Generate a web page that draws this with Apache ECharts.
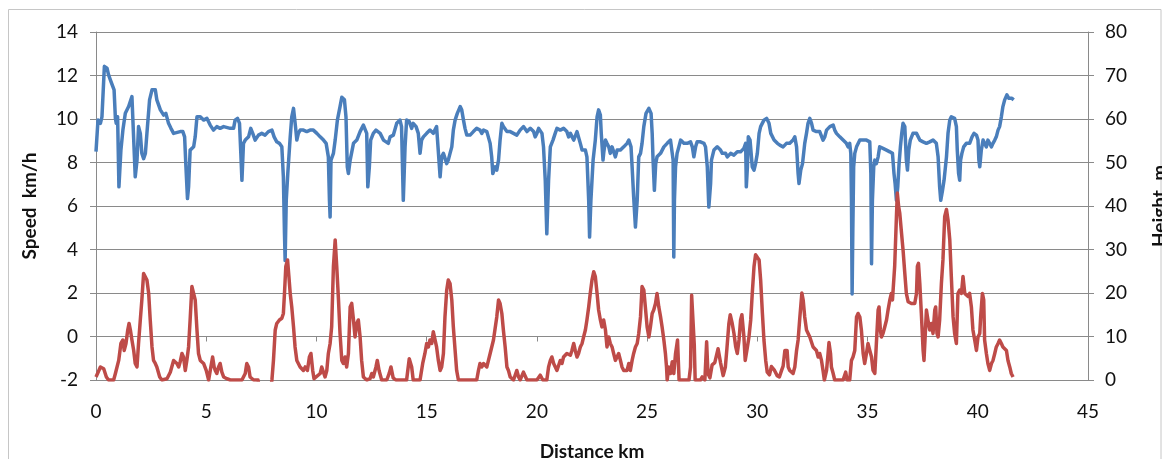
<!DOCTYPE html>
<html>
<head>
<meta charset="utf-8">
<script src="https://cdn.jsdelivr.net/npm/echarts@6/dist/echarts.min.js"></script>
<style>
html,body{margin:0;padding:0;background:#fff;}
#c{width:1162px;height:459px;}
</style>
</head>
<body>
<div id="c"></div>
<script>
// ---- Data ----
const xTicks = [0, 5, 10, 15, 20, 25, 30, 35, 40, 45];
const speedTicks = [-2, 0, 2, 4, 6, 8, 10, 12, 14];
const heightTicks = [0, 10, 20, 30, 40, 50, 60, 70, 80];

// Speed (km/h) vs distance (km)
const speedDist = [0,0.09,0.2,0.27,0.38,0.5,0.57,0.68,0.77,0.82,0.88,0.92,0.98,1.04,1.13,1.22,1.33,1.48,1.63,1.71,1.78,1.86,1.93,2.01,2.08,2.16,2.24,2.31,2.43,2.54,2.69,2.76,2.92,3.07,3.17,3.29,3.4,3.52,3.82,3.94,4.02,4.08,4.15,4.2,4.27,4.43,4.5,4.58,4.73,4.88,5.03,5.11,5.18,5.33,5.48,5.63,5.79,6.09,6.24,6.31,6.42,6.51,6.57,6.62,6.69,6.77,6.92,7.02,7.11,7.22,7.37,7.52,7.67,7.82,7.98,8.08,8.2,8.32,8.43,8.5,8.55,8.58,8.63,8.7,8.81,8.88,8.96,9.05,9.11,9.18,9.26,9.41,9.56,9.71,9.86,10.02,10.17,10.32,10.44,10.54,10.59,10.62,10.66,10.77,10.85,10.95,11.07,11.15,11.27,11.34,11.4,11.45,11.53,11.68,11.83,11.98,12.13,12.21,12.28,12.33,12.4,12.46,12.58,12.7,12.89,13.04,13.26,13.34,13.49,13.64,13.79,13.86,13.94,14.02,14.09,14.21,14.32,14.39,14.52,14.62,14.7,14.77,14.85,15.0,15.15,15.3,15.45,15.53,15.61,15.68,15.76,15.91,15.98,16.06,16.14,16.21,16.29,16.39,16.52,16.59,16.67,16.74,16.82,16.97,17.12,17.27,17.42,17.5,17.58,17.73,17.88,17.95,18.0,18.11,18.18,18.26,18.33,18.41,18.48,18.64,18.79,18.94,19.09,19.24,19.39,19.55,19.7,19.85,19.92,20.0,20.08,20.15,20.23,20.3,20.38,20.45,20.53,20.61,20.73,20.83,20.91,21.06,21.21,21.36,21.44,21.52,21.67,21.82,21.89,21.97,22.05,22.2,22.27,22.35,22.39,22.45,22.55,22.65,22.73,22.8,22.88,22.92,23.0,23.03,23.11,23.18,23.26,23.33,23.41,23.48,23.56,23.64,23.79,23.94,24.09,24.17,24.27,24.32,24.39,24.47,24.55,24.62,24.7,24.77,24.85,24.95,25.08,25.18,25.23,25.27,25.33,25.39,25.45,25.53,25.61,25.76,25.91,26.06,26.14,26.18,26.21,26.24,26.29,26.36,26.44,26.52,26.67,26.82,26.97,27.05,27.12,27.2,27.27,27.42,27.58,27.65,27.73,27.8,27.88,27.92,28.03,28.18,28.33,28.41,28.56,28.64,28.79,28.94,29.09,29.24,29.39,29.47,29.5,29.55,29.59,29.67,29.77,29.85,29.92,30.0,30.08,30.15,30.3,30.42,30.53,30.61,30.76,30.91,31.02,31.17,31.32,31.47,31.62,31.7,31.78,31.85,31.89,31.97,32.05,32.15,32.23,32.3,32.38,32.46,32.53,32.68,32.83,32.98,33.06,33.14,33.29,33.44,33.51,33.59,33.74,33.89,34.04,34.12,34.19,34.24,34.27,34.3,34.33,34.37,34.42,34.5,34.65,34.95,35.1,35.15,35.18,35.22,35.28,35.33,35.4,35.48,35.55,35.63,35.7,35.86,36.01,36.13,36.2,36.25,36.31,36.37,36.43,36.49,36.55,36.61,36.69,36.76,36.81,36.87,36.94,37.06,37.22,37.37,37.52,37.67,37.82,37.97,38.12,38.2,38.27,38.32,38.4,38.47,38.58,38.65,38.73,38.8,38.95,39.03,39.07,39.13,39.18,39.22,39.28,39.36,39.48,39.63,39.74,39.83,39.94,40.01,40.05,40.09,40.16,40.24,40.31,40.39,40.46,40.54,40.62,40.69,40.77,40.84,40.92,40.99,41.07,41.14,41.22,41.32,41.41,41.48,41.55,41.63];
const speedVals = [8.5,9.95,9.8,10.1,12.42,12.34,12.03,11.72,11.65,11.34,10.03,9.8,10.1,6.88,8.57,9.49,10.26,10.57,11.03,11.03,7.34,8.1,9.65,9.34,8.42,8.18,8.42,9.34,10.88,11.34,11.34,10.88,10.42,10.18,10.26,9.8,9.57,9.34,9.42,9.42,9.18,7.8,6.34,6.88,8.57,8.72,9.18,10.1,10.1,9.95,10.03,10.1,9.72,9.49,9.65,9.57,9.65,9.57,9.57,9.95,10.03,9.8,8.42,7.18,8.88,9.03,9.18,9.57,9.34,9.03,9.26,9.34,9.26,9.42,9.49,9.18,8.95,8.88,8.72,7.34,4.72,3.49,6.26,7.49,9.18,10.1,10.49,9.65,9.03,9.34,9.49,9.49,9.42,9.49,9.49,9.34,9.18,9.03,8.88,8.26,6.26,5.49,8.11,8.42,9.03,9.95,10.57,11.0,10.88,10.1,7.8,7.49,8.11,8.88,9.03,9.42,9.72,9.8,9.34,6.88,7.8,9.03,9.34,9.49,9.34,9.03,8.88,9.18,9.26,9.8,9.95,9.65,6.26,8.72,9.95,9.88,9.57,9.8,9.65,9.34,8.42,9.03,9.18,9.34,9.49,9.34,9.65,9.72,7.34,8.26,8.42,7.95,8.11,8.42,8.72,9.49,9.95,10.26,10.57,10.42,9.95,9.57,9.26,9.26,9.42,9.57,9.49,9.34,9.49,9.42,8.88,8.26,7.49,7.8,7.65,8.11,9.03,9.8,9.65,9.42,9.42,9.34,9.26,9.49,9.65,9.42,9.57,9.42,9.18,9.34,9.57,9.57,9.34,8.72,7.18,4.72,7.18,8.72,9.03,9.34,9.57,9.49,9.57,9.42,9.18,9.34,9.03,9.42,9.49,8.88,8.57,8.57,8.26,6.26,4.57,6.26,8.11,9.03,10.1,10.42,10.18,9.34,8.11,8.42,9.03,8.88,8.72,8.42,8.72,8.65,8.26,8.57,8.57,8.72,8.88,9.03,8.72,7.8,6.42,5.03,6.26,8.26,8.42,8.88,9.65,10.26,10.49,10.26,9.34,8.11,6.72,7.95,8.26,8.26,8.42,8.72,8.88,9.03,9.03,8.11,3.65,6.26,7.8,8.42,8.72,9.03,8.88,8.88,8.95,8.72,8.26,8.72,8.95,8.95,8.88,8.72,7.8,5.95,7.03,8.11,8.57,8.72,8.57,8.42,8.42,8.26,8.42,8.34,8.49,8.49,8.65,8.88,6.88,7.8,9.18,9.03,7.8,7.65,7.95,8.42,9.34,9.65,9.95,10.03,9.8,9.34,9.03,8.88,8.8,8.72,8.88,8.88,9.03,9.18,8.72,7.49,7.03,7.65,7.95,8.88,9.34,9.8,10.03,9.8,9.49,9.42,9.42,9.03,9.18,9.49,9.65,9.72,9.49,9.34,9.18,9.03,8.88,8.72,8.88,8.42,6.26,1.95,4.72,7.8,8.42,8.72,9.03,9.03,8.95,7.49,3.34,6.26,7.8,8.11,7.95,8.26,8.72,8.8,8.65,8.57,8.49,8.42,7.49,7.03,6.26,6.88,7.95,8.72,9.34,9.8,9.65,8.11,7.65,8.57,9.03,9.34,9.34,9.03,8.95,8.88,8.95,9.03,8.88,8.26,6.88,6.26,6.72,7.18,8.26,9.34,9.95,10.1,10.03,9.65,8.57,7.49,7.18,8.11,8.42,8.72,8.88,8.88,9.18,9.34,9.26,9.03,8.11,7.8,8.57,9.03,8.88,8.72,9.03,8.88,8.72,8.88,9.03,9.18,9.49,9.65,10.1,10.57,10.88,11.11,10.95,10.88,10.95,10.88];

// Height (m) vs distance (km); negative values fall below the axis (not visible)
const heightDist = [0,0.2,0.35,0.47,0.57,0.8,0.88,1.03,1.13,1.22,1.28,1.36,1.44,1.5,1.56,1.63,1.71,1.78,1.86,1.93,2.01,2.08,2.16,2.24,2.31,2.39,2.46,2.54,2.61,2.69,2.76,2.89,2.99,3.22,3.37,3.52,3.6,3.67,3.75,3.82,3.9,3.97,4.05,4.12,4.2,4.27,4.35,4.43,4.5,4.58,4.65,4.73,4.88,5.0,5.11,5.21,5.29,5.36,5.41,5.48,5.56,5.63,5.71,5.79,5.94,6.09,6.62,6.77,6.84,6.92,6.99,7.15,7.35,7.45,7.9,7.98,8.05,8.13,8.2,8.32,8.43,8.5,8.55,8.61,8.69,8.75,8.81,8.88,8.96,9.03,9.11,9.26,9.41,9.49,9.59,9.68,9.75,9.83,9.89,9.95,10.17,10.24,10.32,10.39,10.47,10.54,10.62,10.69,10.77,10.85,10.92,11.0,11.07,11.15,11.22,11.3,11.37,11.45,11.53,11.6,11.68,11.75,11.83,11.9,11.98,12.05,12.13,12.28,12.43,12.51,12.58,12.7,12.76,12.84,12.96,13.19,13.3,13.38,13.48,13.6,14.09,14.21,14.32,14.39,14.7,14.82,14.92,15.0,15.08,15.15,15.23,15.3,15.38,15.45,15.53,15.61,15.68,15.76,15.83,15.91,15.98,16.06,16.14,16.21,16.29,16.36,16.44,17.27,17.35,17.42,17.5,17.58,17.73,17.88,18.03,18.18,18.26,18.33,18.41,18.48,18.56,18.64,18.71,18.79,18.94,19.09,19.17,19.24,19.39,19.47,19.55,20.0,20.15,20.27,20.45,20.53,20.61,20.68,20.76,20.91,21.06,21.14,21.21,21.36,21.52,21.59,21.67,21.74,21.82,21.89,21.97,22.05,22.12,22.2,22.27,22.35,22.42,22.5,22.58,22.65,22.73,22.8,22.88,22.95,23.03,23.11,23.18,23.26,23.33,23.41,23.48,23.56,23.64,23.71,23.79,23.86,23.94,24.02,24.09,24.17,24.24,24.32,24.39,24.47,24.55,24.62,24.7,24.77,24.85,24.92,25.0,25.08,25.15,25.23,25.3,25.38,25.45,25.53,25.61,25.68,25.76,25.83,25.88,25.91,25.98,26.06,26.14,26.21,26.29,26.38,26.45,26.9,26.97,27.02,27.09,27.14,27.18,27.42,27.5,27.62,27.7,27.76,27.85,27.95,28.07,28.22,28.33,28.45,28.55,28.62,28.71,28.77,28.86,28.94,29.02,29.09,29.17,29.24,29.3,29.39,29.45,29.55,29.62,29.7,29.77,29.85,29.92,30.0,30.08,30.15,30.23,30.3,30.38,30.45,30.55,30.64,30.7,30.78,30.9,31.0,31.1,31.17,31.25,31.35,31.4,31.47,31.62,31.7,31.78,31.85,31.93,32.02,32.08,32.15,32.23,32.38,32.53,32.68,32.76,32.83,32.91,32.98,33.04,33.14,33.21,33.25,33.32,33.36,33.44,33.51,33.89,34.01,34.07,34.19,34.27,34.34,34.42,34.5,34.57,34.65,34.72,34.8,34.87,34.95,35.02,35.1,35.18,35.25,35.33,35.4,35.48,35.52,35.58,35.63,35.7,35.78,35.86,35.93,36.01,36.08,36.13,36.19,36.23,36.31,36.35,36.41,36.46,36.54,36.61,36.69,36.76,36.84,36.99,37.14,37.22,37.26,37.31,37.37,37.44,37.52,37.56,37.62,37.67,37.74,37.82,37.9,37.97,38.05,38.09,38.15,38.2,38.27,38.35,38.42,38.5,38.58,38.65,38.73,38.8,38.88,38.95,39.03,39.1,39.18,39.26,39.33,39.41,39.48,39.56,39.63,39.71,39.78,39.86,39.94,40.01,40.09,40.13,40.21,40.27,40.31,40.39,40.46,40.54,40.62,40.69,40.77,40.84,40.92,40.99,41.07,41.14,41.3,41.37,41.45,41.52,41.6];
const heightVals = [0.7,3.0,2.6,0.7,0,0,1.5,4.5,8.4,9.2,6.8,8.4,11.5,13,11.5,9.2,6.8,3.8,3.0,8.4,13.8,18.4,24.5,24.9,23,19.9,13.8,7.6,4.5,3.8,3.0,0.7,0,0.3,1.8,4.5,4.9,3.8,3.0,4.2,6.1,5.3,2.2,4.5,7.6,13.8,21.5,21.8,18.4,11.5,6.1,4.5,3.8,2.2,0,3.0,5.3,3.0,2.2,1.5,3.0,3.8,1.8,0.7,0.3,0,0,1.5,3.8,3.0,0.7,0,0,-3,-3,0,4.5,11.5,13,13.8,14.2,15.3,19.9,26.1,27.6,23.8,19.9,16.8,12.2,7.6,4.5,3.0,2.2,3.0,2.2,5.3,6.1,2.2,0.3,0.7,1.5,3.0,2.6,0.7,2.2,6.1,8.4,12.2,26.1,32.2,26.1,18.4,10.7,4.5,3.8,5.3,3.0,6.1,16.8,17.6,13.8,9.9,13,13.8,9.9,4.5,0.7,0,0.3,1.5,0.7,3.0,4.5,2.2,0,0,1.5,3.0,0.5,0,0,4.9,3.0,0,0,3.8,6.1,8.4,7.6,9.2,8.4,11.1,10.7,7.6,4.5,2.2,3.0,6.1,14.5,20.7,23,22.2,18.4,12.2,6.8,2.2,0,0,2.2,3.8,3.0,3.8,3.0,6.1,9.2,14.5,18.4,17.6,15.3,11.5,7.6,3.0,2.2,0.7,0,2.2,0.7,0,1.8,1.5,0,0,1.1,0,0,3.0,4.5,5.3,3.8,2.2,4.5,3.8,5.3,6.1,5.7,6.8,8.4,6.8,5.3,6.1,7.6,8.4,9.9,11.5,13.8,16.8,19.9,23,24.9,23.8,19.9,16.1,13.8,12.2,13.8,11.5,7.6,9.9,8.4,7.6,6.1,4.5,4.5,6.1,4.5,3.0,2.2,2.6,2.2,3.8,2.2,4.5,6.1,7.6,8.4,10.7,14.5,21.5,20.7,16.8,12.2,9.9,12.2,15.3,16.1,17.6,19.9,16.8,14.5,12.2,9.2,6.1,3.0,0,3.0,1.5,4.2,1.5,6.1,9.2,0,0,3.0,19.5,19.9,8,0,0,0.7,0,8.8,1.5,0.5,3.5,4,7.2,4,1,3,7.2,13,15,13,10.7,7.6,6.1,9.2,13.8,15,10,4.5,7.6,9.9,13.8,19.9,26.1,28.8,29.2,27.6,23,15.3,9.2,4.5,1.8,1.2,3.1,3.5,2.2,1,0.7,2.2,3.2,6.8,6.8,3.0,2.2,1.5,3.0,6.8,9.2,14.5,20,18.4,14.5,11.5,9.9,7.6,6.8,5.3,6.1,4.5,2.2,0,2.2,6.1,8.6,6.1,3.0,1.5,0,0,1.8,0,0,4.5,5.3,6.8,14.5,15.3,14.5,11.5,6.1,3.8,6.1,8.4,6.8,5.3,2.2,1.5,8.4,16.1,16.8,11.5,9.9,10.7,12.2,13.8,16.1,18.4,19.9,18.4,18.4,26.1,37.6,43,39.9,38.4,33.8,29.9,24.5,19.9,18.0,17.6,17.6,19.9,26.1,26.8,22.2,15.3,6.8,4.5,10.7,16.1,13.8,11.5,13,10.7,16.1,16.8,10.7,9.9,13.8,22.2,27.6,37.6,39.2,36.8,32.2,23.8,14.5,10.7,8.4,19.9,20.7,19.9,23.8,19.9,19.9,19.2,19.9,16.8,11.5,9.2,6.8,9.9,10.7,14.5,19.9,18.4,9.2,6.1,3.8,2.2,3.8,4.5,6.1,7.6,8.4,9.2,8.4,7.6,6.8,4.5,3.0,1.5,0.7];

const zip = (xs, ys) => xs.map((x, i) => [x, ys[i]]);

const FONT = 'Lato, "Open Sans", sans-serif';
const GRID_COLOR = '#8a8a8a';
const TEXT_COLOR = '#111111';

const chart = echarts.init(document.getElementById('c'), null, {renderer: 'canvas'});
chart.setOption({
  animation: false,
  backgroundColor: '#ffffff',
  graphic: [{
    type: 'rect', silent: true, z: -10,
    shape: {x: 8.5, y: 9.5, width: 1152.5, height: 470},
    style: {fill: 'none', stroke: '#c6c6c6', lineWidth: 1}
  }],
  grid: {left: 96, right: 74, top: 32, bottom: 79, containLabel: false, outerBoundsMode: 'none'},
  xAxis: [{
    type: 'value', position: 'bottom',
    min: xTicks[0], max: xTicks[xTicks.length - 1], interval: 5,
    axisLine: {show: false, onZero: false},
    axisTick: {show: false},
    splitLine: {show: false},
    axisLabel: {fontSize: 19, color: TEXT_COLOR, fontFamily: FONT, margin: 22},
    name: 'Distance km', nameLocation: 'middle', nameGap: 62,
    nameTextStyle: {fontSize: 19, fontWeight: 'bold', color: TEXT_COLOR, fontFamily: FONT}
  }, {
    type: 'value', position: 'bottom',
    min: xTicks[0], max: xTicks[xTicks.length - 1], interval: 5,
    axisLine: {show: true, onZero: true, onZeroAxisIndex: 0, lineStyle: {color: GRID_COLOR, width: 1}},
    axisTick: {show: true, length: 5, lineStyle: {color: GRID_COLOR}},
    axisLabel: {show: false},
    splitLine: {show: false}
  }],
  yAxis: [{
    type: 'value', position: 'left',
    min: speedTicks[0], max: speedTicks[speedTicks.length - 1], interval: 2,
    axisLine: {show: true, onZero: false, lineStyle: {color: GRID_COLOR, width: 1}},
    axisTick: {show: true, length: 6, lineStyle: {color: GRID_COLOR}},
    splitLine: {show: true, lineStyle: {color: GRID_COLOR, width: 1}},
    axisLabel: {fontSize: 19, color: TEXT_COLOR, fontFamily: FONT, margin: 18},
    name: 'Speed  km/h', nameLocation: 'middle', nameGap: 57, nameRotate: 90,
    nameTextStyle: {fontSize: 19, fontWeight: 'bold', color: TEXT_COLOR, fontFamily: FONT}
  }, {
    type: 'value', position: 'right',
    min: heightTicks[0], max: heightTicks[heightTicks.length - 1], interval: 10,
    axisLine: {show: true, onZero: false, lineStyle: {color: GRID_COLOR, width: 1}},
    axisTick: {show: true, length: 6, lineStyle: {color: GRID_COLOR}},
    splitLine: {show: false},
    axisLabel: {fontSize: 19, color: TEXT_COLOR, fontFamily: FONT, margin: 17},
    name: 'Height  m', nameLocation: 'middle', nameGap: 62, nameRotate: 90,
    nameTextStyle: {fontSize: 19, fontWeight: 'bold', color: TEXT_COLOR, fontFamily: FONT}
  }],
  series: [{
    name: 'Speed', type: 'line', xAxisIndex: 0, yAxisIndex: 0,
    data: zip(speedDist, speedVals),
    showSymbol: false, symbol: 'none', clip: true,
    lineStyle: {color: '#4A7EBB', width: 3.5, join: 'round'}
  }, {
    name: 'Height', type: 'line', xAxisIndex: 0, yAxisIndex: 1,
    data: zip(heightDist, heightVals),
    showSymbol: false, symbol: 'none', clip: true,
    lineStyle: {color: '#BE4B48', width: 3.5, join: 'round'}
  }]
});
</script>
</body>
</html>
